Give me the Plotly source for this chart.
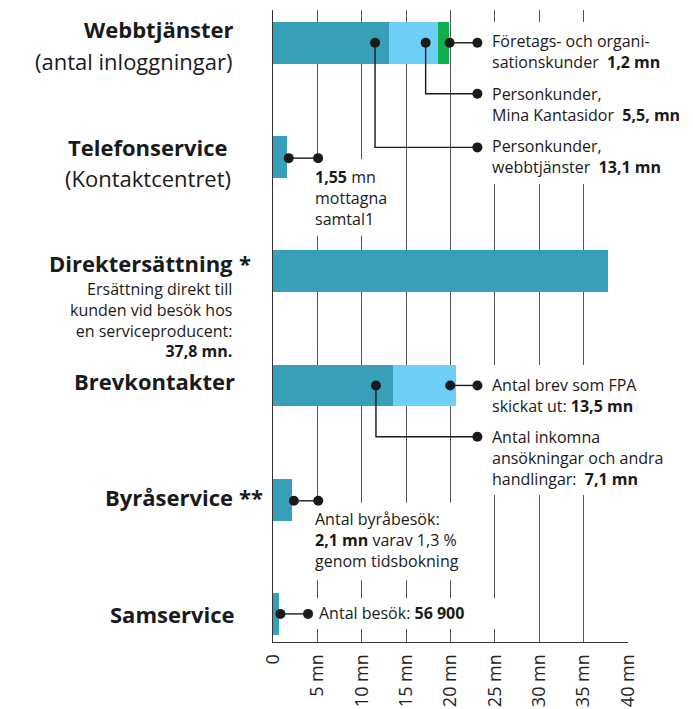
import plotly.graph_objects as go

# ---------------- data ----------------
categories = ["Webbtjänster", "Telefonservice", "Direktersättning",
              "Brevkontakter", "Byråservice", "Samservice"]
dark_values = [13.1, 1.55, 37.8, 13.5, 2.1, 0.65]      # mn
light_values = [5.5, None, None, 7.1, None, None]      # mn
green_values = [1.2, None, None, None, None, None]     # mn
tick_values = [0, 5, 10, 15, 20, 25, 30, 35, 40]
tick_labels = ["0", "5 mn", "10 mn", "15 mn", "20 mn", "25 mn", "30 mn", "35 mn", "40 mn"]

DARK = "#379FB7"
LIGHT = "#6DCFF6"
GREEN = "#0DB04B"
INK = "#1a1a1a"
FONT = "Open Sans"

ypos = list(range(len(categories)))
BAR_W = 0.366

fig = go.Figure()
fig.add_trace(go.Bar(y=ypos, x=dark_values, orientation="h", marker=dict(color=DARK, line=dict(width=0)),
                     width=BAR_W, hoverinfo="skip", showlegend=False))
fig.add_trace(go.Bar(y=ypos, x=light_values, orientation="h", marker=dict(color=LIGHT, line=dict(width=0)),
                     width=BAR_W, hoverinfo="skip", showlegend=False))
fig.add_trace(go.Bar(y=ypos, x=green_values, orientation="h", marker=dict(color=GREEN, line=dict(width=0)),
                     width=BAR_W, hoverinfo="skip", showlegend=False))

# ---------------- connectors (data coords: x in mn, y in category units) ----------------
TX = 23.03  # x of label-side dots
connectors = [
    [(19.9, 0), (TX, 0)],
    [(17.2, 0), (17.2, 0.446), (TX, 0.446)],
    [(11.5, 0), (11.5, 0.916), (TX, 0.916)],
    [(1.77, 1.01), (5.08, 1.01)],
    [(19.97, 3), (TX, 3)],
    [(11.6, 3), (11.6, 3.449), (TX, 3.449)],
    [(2.35, 4.01), (5.1, 4.01)],
    [(0.83, 5), (3.95, 5)],
]
lx, ly, dx, dy = [], [], [], []
for c in connectors:
    for (a, b) in c:
        lx.append(a); ly.append(b)
    lx.append(None); ly.append(None)
    dx += [c[0][0], c[-1][0]]
    dy += [c[0][1], c[-1][1]]
fig.add_trace(go.Scatter(x=lx, y=ly, mode="lines", line=dict(color=INK, width=1.4),
                         hoverinfo="skip", showlegend=False))
fig.add_trace(go.Scatter(x=dx, y=dy, mode="markers", marker=dict(color=INK, size=10),
                         hoverinfo="skip", showlegend=False))

# ---------------- white knock-out areas over gridlines ----------------
knockouts = [
    (22.2, 40.6, -0.183, 1.236),
    (2.5, 13.5, 1.02, 1.69),
    (22.2, 40.6, 2.82, 3.96),
    (2.5, 22.2, 4.026, 4.705),
    (2.5, 25.6, 4.863, 5.133),
]
shapes = []
for x0, x1, y0, y1 in knockouts:
    shapes.append(dict(type="rect", xref="x", yref="y", x0=x0, x1=x1, y0=y0, y1=y1,
                       fillcolor="white", line=dict(width=0), layer="between"))

# ---------------- annotations ----------------
ann = []

def left(text, y, size=22, shift=-40):
    ann.append(dict(text=text, xref="paper", yref="y", x=0, y=y, xanchor="right", yanchor="middle",
                    xshift=shift, showarrow=False, align="right",
                    font=dict(family=FONT, size=size, color=INK)))

def star(text, y):
    ann.append(dict(text=text, xref="paper", yref="y", x=0, y=y, xanchor="left", yanchor="middle",
                    xshift=-36, showarrow=False, font=dict(family=FONT, size=22, color=INK)))

left("<b>Webbtjänster</b>", 0 - 0.122, shift=-37)
left("(antal inloggningar)", 0 + 0.157, shift=-39)
left("<b>Telefonservice</b>", 1 - 0.087, shift=-43)
left("(Kontaktcentret)", 1 + 0.183, shift=-40)
left("<b>Direktersättning</b>", 2 - 0.076, shift=-38)
star("<b>*</b>", 2 - 0.076)
left("Ersättning direkt till<br>kunden vid besök hos<br>en serviceproducent:<br><b>37,8 mn.</b>",
     2 + 0.427, size=16, shift=-39)
left("<b>Brevkontakter</b>", 3 - 0.043, shift=-36)
left("<b>Byråservice</b>", 4 - 0.022, shift=-38)
star("<b>**</b>", 4 - 0.022)
left("<b>Samservice</b>", 5, shift=-37)

def right(text, x, y):
    ann.append(dict(text=text, xref="x", yref="y", x=x, y=y, xanchor="left", yanchor="middle",
                    showarrow=False, align="left", font=dict(family=FONT, size=16, color=INK)))

RX = 24.5
right("Företags- och organi-<br>sationskunder  <b>1,2 mn</b>", RX, 0.078)
right("Personkunder,<br>Mina Kantasidor  <b>5,5, mn</b>", RX, 0.542)
right("Personkunder,<br>webbtjänster  <b>13,1 mn</b>", RX, 0.995)
right("<b>1,55</b> mn<br>mottagna<br>samtal1", 4.55, 1 + 0.357)
right("Antal brev som FPA<br>skickat ut: <b>13,5 mn</b>", RX, 3 + 0.092)
right("Antal inkomna<br>ansökningar och andra<br>handlingar:  <b>7,1 mn</b>", RX, 3 + 0.634)
right("Antal byråbesök:<br><b>2,1 mn</b> varav 1,3 %<br>genom tidsbokning", 4.55, 4 + 0.355)
right("Antal besök: <b>56 900</b>", 5.0, 5 - 0.006)

# page body has an 8px default margin: figure sized/margined to compensate
fig.update_layout(
    width=685, height=701,
    margin=dict(l=265, r=65, t=2, b=55, pad=0),
    paper_bgcolor="white", plot_bgcolor="white",
    barmode="stack", bargap=0,
    shapes=shapes, annotations=ann,
    font=dict(family=FONT, color=INK),
)
fig.update_xaxes(range=[0, 40], tickvals=tick_values, ticktext=tick_labels, tickangle=-90,
                 tickfont=dict(family=FONT, size=18, color="#222"),
                 showgrid=True, gridcolor="#555", gridwidth=1, zeroline=False,
                 showline=True, linecolor="#333", linewidth=1, ticks="", ticklabelstandoff=4,
                 fixedrange=True)
fig.update_yaxes(range=[5.246, -0.287], showticklabels=False, showgrid=False, zeroline=False,
                 showline=True, linecolor="#333", linewidth=1, ticks="", fixedrange=True)

fig.write_html("out.html")
